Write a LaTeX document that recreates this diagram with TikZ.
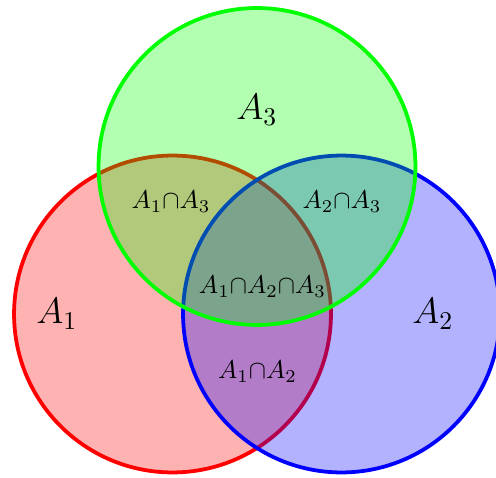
\documentclass[tikz,border=0pt]{standalone}
\begin{document}
\begin{tikzpicture}[x=0.45pt,y=-0.45pt,
  setcircle/.style={line width=1.7pt, fill opacity=0.3, draw opacity=1},
  biglabel/.style={font=\Large, inner sep=0pt, scale=1.15},
  smalllabel/.style={font=\normalsize, inner sep=0pt, scale=1.16}]
\useasboundingbox (0,0) rectangle (496,478);
\coordinate (c1) at (172.5,314);
\coordinate (c2) at (341.5,314);
\coordinate (c3) at (257,166.5);
\draw[setcircle, draw=red, fill=red] (c1) circle[radius=71.3pt];
\draw[setcircle, draw=blue, fill=blue] (c2) circle[radius=71.3pt];
\draw[setcircle, draw=green, fill=green] (c3) circle[radius=71.3pt];
\node[biglabel] (l1) at (57,314) {$A_1$};
\node[biglabel] (l2) at (433,314) {$A_2$};
\node[biglabel] (l3) at (257,110) {$A_3$};
\node[smalllabel] (l13) at (171,202) {$A_1{\cap}A_3$};
\node[smalllabel] (l23) at (342,202) {$A_2{\cap}A_3$};
\node[smalllabel] (l123) at (262.5,287) {$A_1{\cap}A_2{\cap}A_3$};
\node[smalllabel] (l12) at (257.5,372) {$A_1{\cap}A_2$};
\end{tikzpicture}
\end{document}
